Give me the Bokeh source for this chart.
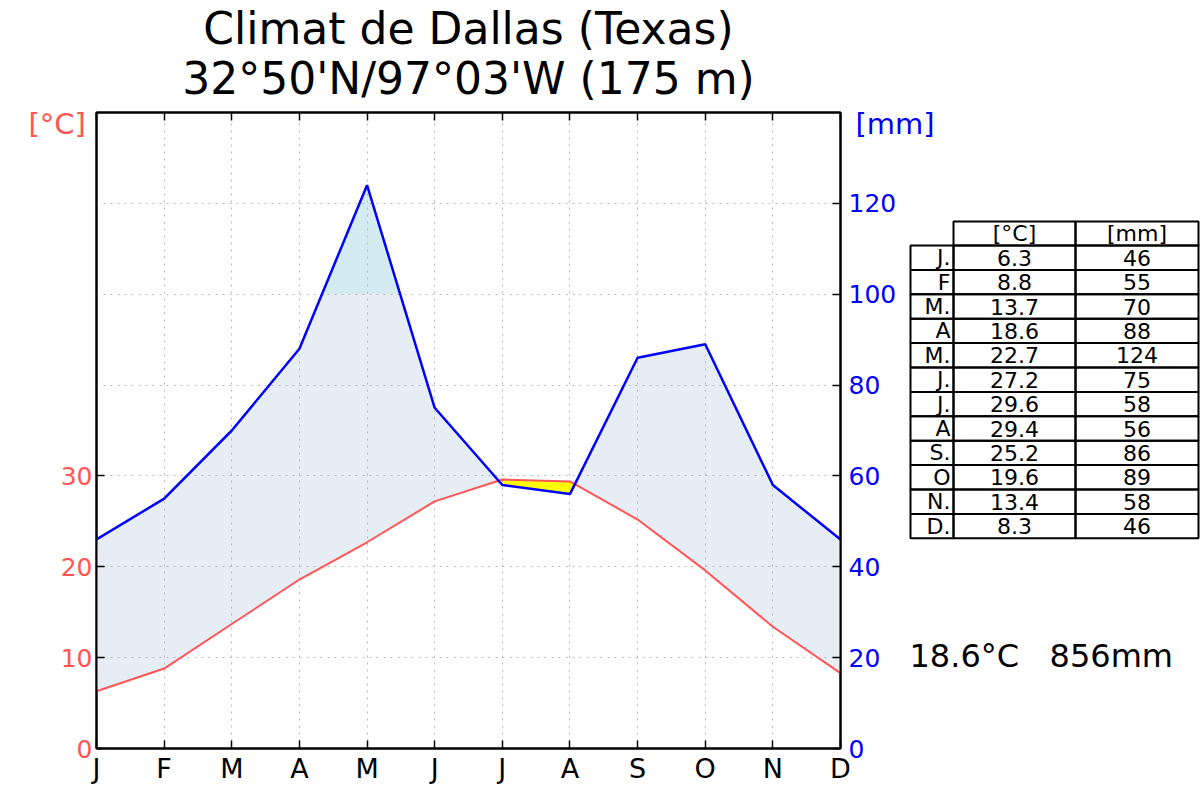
import numpy as np
from bokeh.plotting import figure
from bokeh.models import Range1d, LinearAxis, FixedTicker, Grid, GridBox
from bokeh.core.properties import value
from bokeh.embed import file_html
from bokeh.resources import INLINE

# ---------------- data ----------------
months = ["J", "F", "M", "A", "M", "J", "J", "A", "S", "O", "N", "D"]
table_months = ["J.", "F", "M.", "A", "M.", "J.", "J.", "A", "S.", "O", "N.", "D."]
temperature = [6.3, 8.8, 13.7, 18.6, 22.7, 27.2, 29.6, 29.4, 25.2, 19.6, 13.4, 8.3]
precipitation = [46, 55, 70, 88, 124, 75, 58, 56, 86, 89, 58, 46]
temp_ticks = [0, 10, 20, 30]
mm_ticks = [0, 20, 40, 60, 80, 100, 120]
table_headers = ["[°C]", "[mm]"]
annual_text = "18.6°C\u00a0\u00a0\u00a0856mm"
title_lines = ["Climat de Dallas (Texas)", "32°50'N/97°03'W (175 m)"]

FONT = "DejaVu Sans"
RED = "#ff5555"
BLUE = "#0000ff"

# ---------------- layout ----------------
W, H = 1200, 803
FL, FR, FT, FB = 96, 840, 112, 748
NX = len(months) - 1
TMAX = 70.0
MMMAX = 140.0

p = figure(width=W, height=H, output_backend="svg", toolbar_location=None,
           x_range=Range1d(0, NX), y_range=Range1d(0, TMAX),
           x_axis_type=None, y_axis_type=None,
           min_border_left=FL, min_border_right=W - FR,
           min_border_top=FT, min_border_bottom=H - FB)
p.frame_align = False
p.extra_y_ranges = {"mm": Range1d(0, MMMAX)}
p.background_fill_color = "white"
p.border_fill_color = "white"
p.outline_line_color = "black"
p.outline_line_width = 2

month_idx = list(range(len(months)))


def style_axis(ax, color, size, standoff):
    ax.axis_line_color = "black"
    ax.axis_line_width = 2
    ax.major_tick_in = 8
    ax.major_tick_out = 0
    ax.major_tick_line_color = "black"
    ax.major_tick_line_width = 1.5
    ax.minor_tick_line_color = None
    ax.major_label_text_color = color
    ax.major_label_text_font = FONT
    ax.major_label_text_font_size = size
    ax.major_label_standoff = standoff


xb = LinearAxis(ticker=FixedTicker(ticks=month_idx),
                major_label_overrides={i: m for i, m in enumerate(months)})
style_axis(xb, "black", "27px", 4)
p.add_layout(xb, "below")

xt = LinearAxis(ticker=FixedTicker(ticks=month_idx),
                major_label_overrides={i: "" for i in month_idx})
style_axis(xt, "black", "0px", 0)
p.add_layout(xt, "above")

yl = LinearAxis(ticker=FixedTicker(ticks=temp_ticks))
style_axis(yl, RED, "25px", 4)
p.add_layout(yl, "left")

yr = LinearAxis(y_range_name="mm", ticker=FixedTicker(ticks=mm_ticks))
style_axis(yr, BLUE, "25px", 8)
p.add_layout(yr, "right")

gx = Grid(dimension=0, ticker=FixedTicker(ticks=month_idx[1:-1]),
          grid_line_color="#b8b8b8", grid_line_dash="2 5", grid_line_width=1)
gy = Grid(dimension=1, ticker=FixedTicker(ticks=[10, 20, 30, 40, 50, 60]),
          grid_line_color="#b8b8b8", grid_line_dash="2 5", grid_line_width=1)
p.add_layout(gx)
p.add_layout(gy)

# ---------------- fills (Walter-Lieth: 10 °C = 20 mm) ----------------
x_m = np.arange(len(months), dtype=float)
t2 = np.array(temperature) * 2.0
pr = np.array(precipitation, dtype=float)
extra = []
for d in (pr - t2, pr - 100.0):
    for i in range(len(d) - 1):
        if d[i] * d[i + 1] < 0:
            extra.append(i + d[i] / (d[i] - d[i + 1]))
xs = np.sort(np.concatenate([x_m, np.array(extra)]))
ti = np.interp(xs, x_m, t2)
pi = np.interp(xs, x_m, pr)

p.varea(x=xs, y1=ti, y2=np.minimum(np.maximum(pi, ti), 100.0),
        fill_color="#e6edf5", y_range_name="mm", level="image")
p.varea(x=xs, y1=np.full_like(xs, 100.0), y2=np.maximum(pi, 100.0),
        fill_color="#d4ebf2", y_range_name="mm", level="image")
p.varea(x=xs, y1=np.minimum(pi, ti), y2=ti,
        fill_color="#ffff00", y_range_name="mm", level="image")

p.line(x_m, temperature, line_color=RED, line_width=2)
p.line(x_m, precipitation, line_color=BLUE, line_width=2.5, y_range_name="mm")

# ---------------- overlay (titles, units, table) in pixel space ----------------
ov = figure(width=W, height=H, output_backend="svg", toolbar_location=None,
            x_range=Range1d(0, W), y_range=Range1d(H, 0),
            x_axis_type=None, y_axis_type=None, min_border=0)
ov.frame_align = False
ov.outline_line_color = None
ov.background_fill_color = None
ov.border_fill_color = None


def txt(xv, yv, texts, size, color="black", align="left"):
    ov.text(x=xv, y=yv, text=texts, text_font=value(FONT), text_font_size=value(size),
            text_color=color, text_align=value(align), text_baseline=value("middle"))


cx = (FL + FR) / 2
txt([cx, cx], [28, 78], title_lines, "44px", align="center")
txt([28], [123], ["[°C]"], "29px", color=RED)
txt([855], [123], ["[mm]"], "29px", color=BLUE)

C0, C1, C2, C3 = 910, 953, 1075, 1198
HT, R0, RH = 221, 245, 24.4
n = len(table_months)
row_top = [R0 + RH * i for i in range(n)]
row_bot = [R0 + RH * (i + 1) for i in range(n)]
row_mid = [R0 + RH * (i + 0.5) for i in range(n)]

ov.quad(left=[C1, C2], right=[C2, C3], top=[HT, HT], bottom=[R0, R0],
        fill_color=None, line_color="black", line_width=2)
for l, r in ((C0, C1), (C1, C2), (C2, C3)):
    ov.quad(left=[l] * n, right=[r] * n, top=row_top, bottom=row_bot,
            fill_color=None, line_color="black", line_width=2)

txt([(C1 + C2) / 2, (C2 + C3) / 2], [(HT + R0) / 2] * 2, table_headers, "22px",
    align="center")
txt([950] * n, row_mid, table_months, "22px", align="right")
txt([(C1 + C2) / 2] * n, row_mid, [f"{t:.1f}" for t in temperature], "22px",
    align="center")
txt([(C2 + C3) / 2] * n, row_mid, [str(v) for v in precipitation], "22px",
    align="center")
txt([909], [655], [annual_text], "32px")

layout = GridBox(children=[(p, 0, 0), (ov, 0, 0)])
open("out.html", "w").write(file_html(layout, INLINE))
